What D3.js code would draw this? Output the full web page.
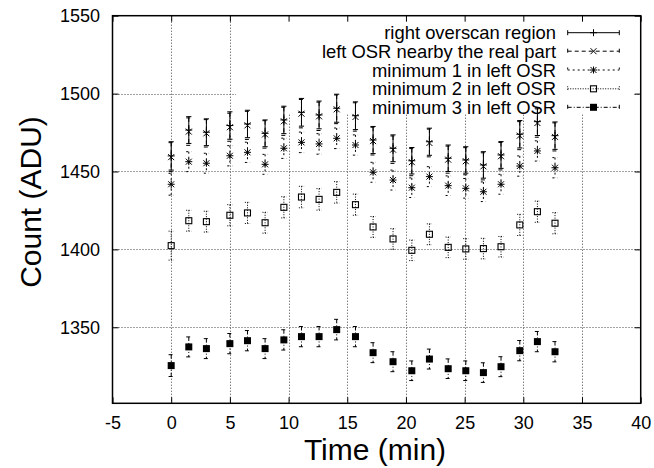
<!DOCTYPE html>
<html>
<head>
<meta charset="utf-8">
<script src="https://cdn.jsdelivr.net/npm/d3@7"></script>
<style>
  html, body { margin: 0; padding: 0; background: #fff; }
  svg { display: block; font-family: "Liberation Sans", Arial, Helvetica, sans-serif; }
</style>
</head>
<body>
<svg id="chart" width="654" height="468"></svg>
<script>
// Sampling times (min)
const times = [0, 1.5, 3.0, 5.0, 6.5, 8.0, 9.6, 11.1, 12.6, 14.1, 15.7, 17.2, 18.9, 20.5, 22.0, 23.6, 25.1, 26.6, 28.1, 29.7, 31.2, 32.7];

// Mean counts (ADU) per region
const rightOverscan = [1460.0, 1476.6, 1475.2, 1479.5, 1480.5, 1474.5, 1483.1, 1488.0, 1486.3, 1490.6, 1485.8, 1470.2, 1464.9, 1456.9, 1469.1, 1458.5, 1457.4, 1454.2, 1460.6, 1473.9, 1482.0, 1473.0];
const leftNearby    = [1459.2, 1475.6, 1474.5, 1478.4, 1479.6, 1473.8, 1482.2, 1487.1, 1485.4, 1489.9, 1485.0, 1469.5, 1464.0, 1456.0, 1468.3, 1457.6, 1456.6, 1453.3, 1459.8, 1473.0, 1481.1, 1472.2];
const minimum1      = [1441.8, 1456.3, 1455.3, 1460.1, 1462.3, 1454.6, 1464.9, 1468.7, 1467.7, 1471.3, 1467.0, 1449.5, 1444.5, 1439.6, 1446.7, 1440.9, 1439.2, 1437.0, 1441.8, 1453.5, 1463.2, 1452.4];
const minimum2      = [1402.4, 1418.4, 1417.8, 1421.9, 1423.4, 1417.1, 1427.0, 1433.6, 1432.1, 1436.6, 1428.7, 1414.4, 1406.7, 1399.4, 1409.7, 1401.3, 1400.3, 1400.5, 1401.7, 1415.7, 1424.2, 1416.8];
const minimum3      = [1325.4, 1337.4, 1336.3, 1339.5, 1341.4, 1336.3, 1341.9, 1344.0, 1344.0, 1348.5, 1344.0, 1333.7, 1327.9, 1322.1, 1329.6, 1323.4, 1322.1, 1320.9, 1324.7, 1335.0, 1340.8, 1334.3];

// Error bar half-lengths (ADU)
const errRight   = [9.1, 8.6, 8.6, 8.8, 8.8, 8.6, 8.8, 8.9, 8.9, 9.0, 8.9, 8.7, 8.6, 8.5, 8.7, 8.5, 8.5, 8.5, 8.6, 8.8, 8.9, 8.8];
const errNearby  = [9.3, 8.8, 8.8, 9.0, 9.0, 8.8, 9.0, 9.1, 9.1, 9.2, 9.1, 8.9, 8.8, 8.7, 8.9, 8.7, 8.7, 8.7, 8.8, 9.0, 9.1, 9.0];
const errMin1    = [7.0, 6.4, 6.4, 6.5, 6.5, 6.4, 6.5, 6.6, 6.6, 6.6, 6.5, 6.4, 6.4, 6.3, 6.4, 6.3, 6.3, 6.3, 6.4, 6.5, 6.5, 6.5];
const errMin2    = [9.3, 6.7, 6.7, 6.8, 6.8, 6.7, 6.8, 6.9, 6.9, 6.9, 6.8, 6.7, 6.6, 6.6, 6.7, 6.6, 6.6, 6.6, 6.6, 6.8, 6.8, 6.8];
const errMin3    = [7.0, 6.4, 6.4, 6.5, 6.5, 6.4, 6.5, 6.5, 6.5, 6.6, 6.5, 6.4, 6.4, 6.3, 6.4, 6.3, 6.3, 6.3, 6.4, 6.5, 6.5, 6.5];

const seriesNames = [
  "right overscan region",
  "left OSR nearby the real part",
  "minimum 1 in left OSR",
  "minimum 2 in left OSR",
  "minimum 3 in left OSR"
];

// Axis ticks
const xTicks = [-5, 0, 5, 10, 15, 20, 25, 30, 35, 40];
const yTicks = [1350, 1400, 1450, 1500, 1550];

const xTitle = "Time (min)";
const yTitle = "Count (ADU)";

// ---- layout ----
const svg = d3.select("#chart");
const L = 112.5, R = 640.7, T = 15.7, B = 403.3;

const x = d3.scaleLinear().domain([-5, 40]).range([L, R]);
const y = d3.scaleLinear().domain([1301.2, 1550]).range([B, T]);

// Key area (grid lines are not drawn beneath it)
const key = { x0: 236, x1: 633, y0: T, y1: 114 };

const defs = svg.append("defs");
const mask = defs.append("mask").attr("id", "gridmask");
mask.append("rect").attr("x", 0).attr("y", 0).attr("width", 654).attr("height", 468).attr("fill", "#fff");
mask.append("rect").attr("x", key.x0).attr("y", key.y0)
  .attr("width", key.x1 - key.x0).attr("height", key.y1 - key.y0).attr("fill", "#000");

// Grid
const grid = svg.append("g").attr("mask", "url(#gridmask)")
  .attr("stroke", "#444").attr("stroke-width", 1).attr("stroke-dasharray", "1,2");
grid.selectAll("line.gx").data(xTicks.filter(d => d > -5 && d < 40)).enter().append("line")
  .attr("x1", d => Math.round(x(d)) + 0.5).attr("x2", d => Math.round(x(d)) + 0.5)
  .attr("y1", T).attr("y2", B);
grid.selectAll("line.gy").data(yTicks.filter(d => d < 1550)).enter().append("line")
  .attr("x1", L).attr("x2", R)
  .attr("y1", d => Math.round(y(d)) + 0.5).attr("y2", d => Math.round(y(d)) + 0.5);

// Axes (plain hyphen-minus in labels)
const fontSize = 18;
const plain = d => String(d);
const xAxis = svg.append("g").attr("transform", `translate(0,${B})`)
  .call(d3.axisBottom(x).tickValues(xTicks).tickFormat(plain)
    .tickSizeInner(-6).tickSizeOuter(0).tickPadding(12.9));
const xAxisTop = svg.append("g").attr("transform", `translate(0,${T})`)
  .call(d3.axisTop(x).tickValues(xTicks).tickFormat("").tickSizeInner(-6).tickSizeOuter(0));
const yAxis = svg.append("g").attr("transform", `translate(${L},0)`)
  .call(d3.axisLeft(y).tickValues(yTicks).tickFormat(plain)
    .tickSizeInner(-6).tickSizeOuter(0).tickPadding(12.5));
const yAxisRight = svg.append("g").attr("transform", `translate(${R},0)`)
  .call(d3.axisRight(y).tickValues(yTicks).tickFormat("").tickSizeInner(-6).tickSizeOuter(0));

[xAxis, xAxisTop, yAxis, yAxisRight].forEach(g => {
  g.select(".domain").remove();
  g.selectAll(".tick line").attr("stroke", "#000").attr("stroke-width", 1);
  g.selectAll(".tick text").attr("font-size", fontSize).attr("fill", "#000")
    .attr("font-family", "Liberation Sans, Arial, sans-serif");
});

// Frame
svg.append("rect").attr("x", L).attr("y", T).attr("width", R - L).attr("height", B - T)
  .attr("fill", "none").attr("stroke", "#000").attr("stroke-width", 1.5);

// Axis titles
svg.append("text").attr("x", 375).attr("y", 460).attr("text-anchor", "middle")
  .attr("font-size", 30).text(xTitle);
svg.append("text").attr("transform", "translate(41,202) rotate(-90)").attr("text-anchor", "middle")
  .attr("font-size", 30).text(yTitle);

// ---- series ----
const series = [
  { name: seriesNames[0], vals: rightOverscan, err: errRight,  dash: null,      marker: "plus" },
  { name: seriesNames[1], vals: leftNearby,    err: errNearby, dash: "4,3",     marker: "cross" },
  { name: seriesNames[2], vals: minimum1,      err: errMin1,   dash: "2,3",     marker: "star" },
  { name: seriesNames[3], vals: minimum2,      err: errMin2,   dash: "1,1.5",   marker: "square" },
  { name: seriesNames[4], vals: minimum3,      err: errMin3,   dash: "4,2,1,2", marker: "fsquare" }
];

function drawMarker(g, type, cx, cy) {
  const s = 3.5;
  if (type === "plus" || type === "star") {
    g.append("path").attr("d", `M${cx - s},${cy}H${cx + s}M${cx},${cy - s}V${cy + s}`)
      .attr("stroke", "#000").attr("stroke-width", 1).attr("fill", "none");
  }
  if (type === "cross" || type === "star") {
    const c = 3;
    g.append("path").attr("d", `M${cx - c},${cy - c}L${cx + c},${cy + c}M${cx - c},${cy + c}L${cx + c},${cy - c}`)
      .attr("stroke", "#000").attr("stroke-width", 1).attr("fill", "none");
  }
  if (type === "square") {
    g.append("rect").attr("x", cx - 3).attr("y", cy - 3).attr("width", 6).attr("height", 6)
      .attr("stroke", "#000").attr("stroke-width", 1.1).attr("fill", "none");
  }
  if (type === "fsquare") {
    g.append("rect").attr("x", cx - 3.5).attr("y", cy - 3.5).attr("width", 7).attr("height", 7)
      .attr("fill", "#000");
  }
}

const cap = 2.6;
series.forEach(s => {
  const g = svg.append("g");
  times.forEach((t, i) => {
    const cx = x(t);
    const yTop = y(s.vals[i] + s.err[i]);
    const yBot = y(s.vals[i] - s.err[i]);
    const eb = g.append("path")
      .attr("d", `M${cx},${yTop}V${yBot}M${cx - cap},${yTop}H${cx + cap}M${cx - cap},${yBot}H${cx + cap}`)
      .attr("stroke", "#000").attr("stroke-width", 1).attr("fill", "none");
    if (s.dash) eb.attr("stroke-dasharray", s.dash);
    drawMarker(g, s.marker, cx, y(s.vals[i]));
  });
});

// ---- key ----
const keyRows = [32.7, 51.2, 70, 88.8, 107.3];
const kx0 = 567.7, kx1 = 619.3, kTextRight = 556;
series.forEach((s, i) => {
  const ky = keyRows[i];
  const g = svg.append("g");
  g.append("text").attr("x", kTextRight).attr("y", ky).attr("dy", "0.36em")
    .attr("text-anchor", "end").attr("font-size", 18.4).text(s.name);
  const ln = g.append("path")
    .attr("d", `M${kx0},${ky}H${kx1}M${kx0},${ky - 2.5}V${ky + 2.5}M${kx1},${ky - 2.5}V${ky + 2.5}`)
    .attr("stroke", "#000").attr("stroke-width", 1).attr("fill", "none");
  if (s.dash) ln.attr("stroke-dasharray", s.dash);
  drawMarker(g, s.marker, (kx0 + kx1) / 2, ky);
});
</script>
</body>
</html>
